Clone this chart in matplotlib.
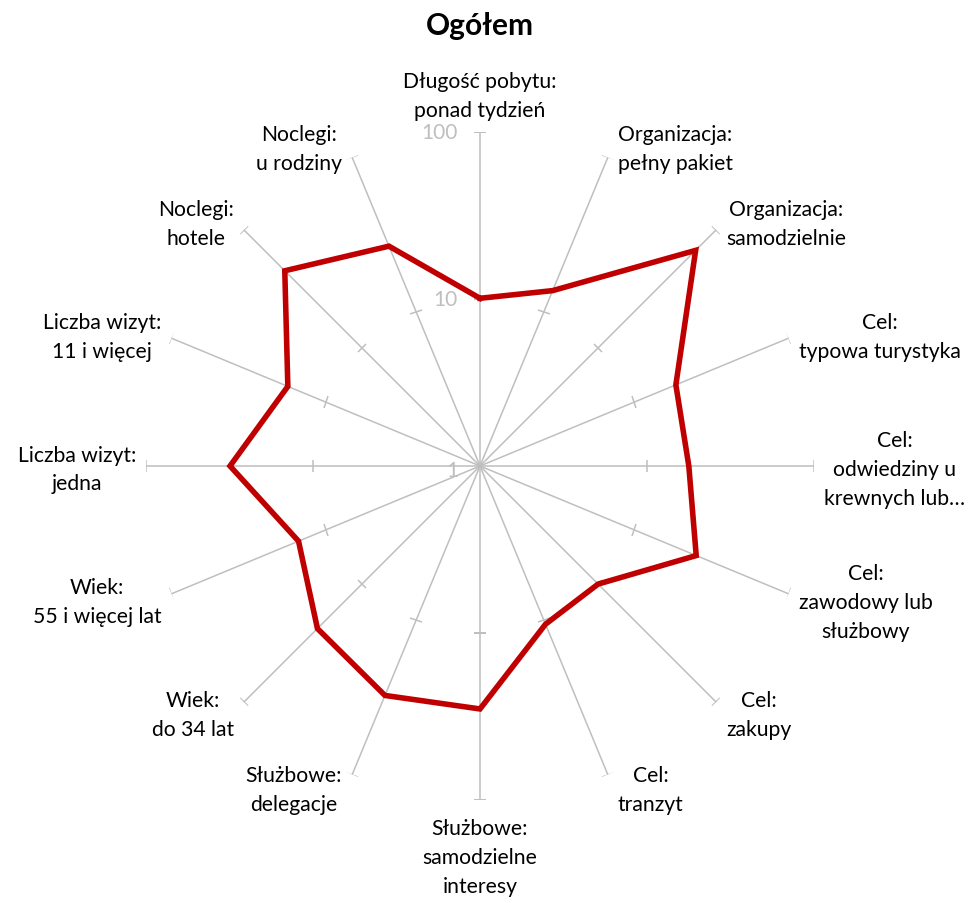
import numpy as np
import matplotlib
matplotlib.use('Agg')
import matplotlib.pyplot as plt
from matplotlib.markers import MarkerStyle
from matplotlib.transforms import Affine2D

plt.rcParams['font.family'] = ['Lato', 'DejaVu Sans']

# 카테고리 (시계방향, 위에서 시작)
categories = [
    "Długość pobytu:\nponad tydzień",
    "Organizacja:\npełny pakiet",
    "Organizacja:\nsamodzielnie",
    "Cel:\ntypowa turystyka",
    "Cel:\nodwiedziny u\nkrewnych lub…",
    "Cel:\nzawodowy lub\nsłużbowy",
    "Cel:\nzakupy",
    "Cel:\ntranzyt",
    "Służbowe:\nsamodzielne\ninteresy",
    "Służbowe:\ndelegacje",
    "Wiek:\ndo 34 lat",
    "Wiek:\n55 i więcej lat",
    "Liczba wizyt:\njedna",
    "Liczba wizyt:\n11 i więcej",
    "Noclegi:\nhotele",
    "Noclegi:\nu rodziny",
]
values = [10.1, 13.7, 67, 18.6, 17.8, 25.2, 10.0, 10.6,
          28.5, 30.7, 23.8, 15.0, 31.4, 17.6, 45, 26.6]
r_ticks = [1, 10, 100]
r_tick_labels = ["1", "10", "100"]
title = "Ogółem"

W, H = 976, 904
fig = plt.figure(figsize=(W / 100, H / 100), dpi=100)

cx, cy, R = 480, 467, 334
ax = fig.add_axes([(cx - R) / W, (H - cy - R) / H, 2 * R / W, 2 * R / H], projection='polar')
ax.set_theta_zero_location('N')
ax.set_theta_direction(-1)
ax.set_rscale('log')
ax.set_rlim(1, 100)
ax.grid(False)
ax.set_xticks([])
ax.set_yticks([])
ax.spines['polar'].set_visible(False)
ax.patch.set_alpha(0)

n = len(categories)
angles = np.arange(n) * 2 * np.pi / n
grey = '#BFBFBF'

# 축선 + 눈금
for th in angles:
    ax.plot([th, th], [1, 100], color=grey, lw=1.1, zorder=1)
    ms = MarkerStyle('_', transform=Affine2D().rotate_deg(-np.degrees(th)))
    ax.plot([th, th], [10, 100], ls='none', marker=ms, markersize=9,
            markeredgewidth=1.1, color=grey, zorder=1)

# 데이터 선
ax.plot(np.append(angles, angles[0]), values + values[:1], color='#C00000', lw=4,
        solid_joinstyle='miter', zorder=3)

for rv, lab in zip(r_ticks, r_tick_labels):
    ax.annotate(lab, xy=(0, rv), xytext=(-22, -4 if rv == 1 else 0), textcoords='offset pixels',
                ha='right', va='center', fontsize=15, color=grey, annotation_clip=False)

# 카테고리 라벨
anns = []
for th, lab in zip(angles, categories):
    a = ax.annotate(lab, xy=(th, 100), xytext=(0, 0), textcoords='offset pixels',
                    ha='center', va='center', fontsize=15.2, linespacing=1.55,
                    color='black', annotation_clip=False)
    anns.append((th, a))

fig.canvas.draw()
rend = fig.canvas.get_renderer()
for th, a in anns:
    bb = a.get_window_extent(rend)
    w, h = bb.width, bb.height
    s, c = np.sin(th), np.cos(th)
    if abs(s) < 1e-6:
        dx = 0
        dy = (12 + h / 2) if c > 0 else -(18 + h / 2)
    else:
        dx = np.sign(s) * (10 + w / 2)
        dy = 13 * c - 3
    a.xyann = (dx, dy)

fig.text(cx / W, 1 - 26 / H, title, ha='center', va='center', fontsize=21.5, fontweight='bold')

fig.savefig('out.png', dpi=100)
